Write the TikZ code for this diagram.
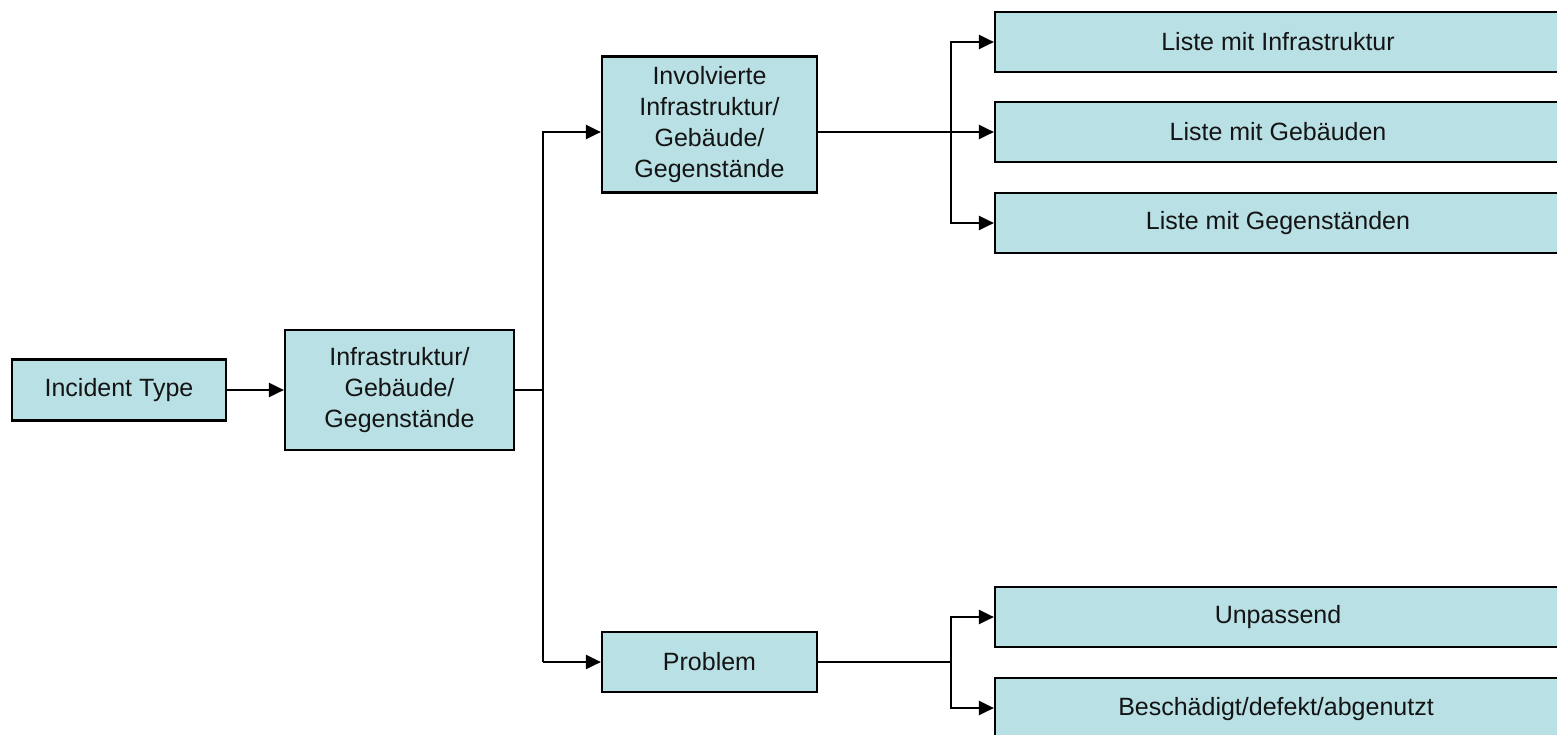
\documentclass[tikz,border=0pt]{standalone}
\usepackage{fontspec}
\setmainfont{Liberation Sans}
\usetikzlibrary{arrows.meta,calc}
\definecolor{boxfill}{RGB}{185,224,228}
\definecolor{txt}{RGB}{20,20,20}
\begin{document}
\begin{tikzpicture}[x=0.5pt,y=-0.5pt,
  box/.style={draw=black,fill=boxfill,line width=1.1pt,inner sep=0pt,align=center,text=txt,
    font=\fontsize{12.5pt}{15.5pt}\selectfont},
  conn/.style={line width=1.1pt},
  arr/.style={conn,-{Triangle[length=7.5pt,width=7pt]}}]
\clip (0,0) rectangle (1557,734);
\fill[white] (0,0) rectangle (1557,734);
% nodes
\node[box,minimum width=107pt,minimum height=30.5pt] (inc) at (119,390) {Incident Type};
\node[box,minimum width=114.5pt,minimum height=60pt] (infra) at (399.5,390) {Infrastruktur/\\Gebäude/\\Gegenstände};
\node[box,minimum width=107.5pt,minimum height=68pt] (inv) at (709.5,124.5) {Involvierte\\Infrastruktur/\\Gebäude/\\Gegenstände};
\node[box,minimum width=107.5pt,minimum height=30pt] (prob) at (709.5,662) {Problem};
\node[box,minimum width=283pt,minimum height=30pt] (l1) at (1278,42) {Liste mit Infrastruktur};
\node[box,minimum width=283pt,minimum height=30pt] (l2) at (1278,132) {Liste mit Gebäuden};
\node[box,minimum width=283pt,minimum height=30pt] (l3) at (1278,223) {Liste mit Gegenständen};
\node[box,minimum width=283pt,minimum height=30pt] (u) at (1278,617) {Unpassend};
\node[box,minimum width=283pt,minimum height=60pt] (b) at (1278,738) {};
\node[font=\fontsize{12.5pt}{15.5pt}\selectfont,text=txt,inner sep=0pt] (bt) at (1276,709) {Beschädigt/defekt/abgenutzt};
% junctions
\coordinate (j1) at (543,390);
\coordinate (ja) at (543,132);
\coordinate (jb) at (543,662);
\coordinate (k1) at (951,42);
\coordinate (k2) at (951,132);
\coordinate (k3) at (951,223);
\coordinate (m0) at (951,662);
\coordinate (m1) at (951,617);
\coordinate (m2) at (951,708);
% connectors
\draw[arr] (inc.east) -- (infra.west);
\draw[conn] (infra.east) -- (j1);
\draw[arr] (ja |- jb) -- (ja) -- (ja -| inv.west);
\draw[arr] (ja |- jb) -- (prob.west);
\draw[arr] (inv.east |- k2) -- (k2 -| l2.west);
\draw[arr] (k3) -- (k1) -- (k1 -| l1.west);
\draw[arr] (k1) -- (k3) -- (k3 -| l3.west);
\draw[conn] (prob.east) -- (m0);
\draw[arr] (m2) -- (m1) -- (m1 -| u.west);
\draw[arr] (m1) -- (m2) -- (m2 -| b.west);
\end{tikzpicture}
\end{document}
